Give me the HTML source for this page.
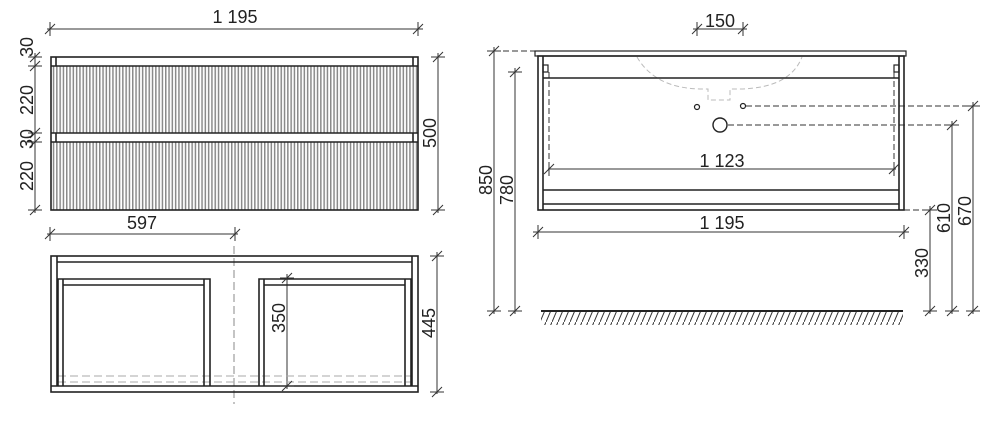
<!DOCTYPE html>
<html><head><meta charset="utf-8"><style>
html,body{margin:0;padding:0;background:#fff;width:1000px;height:424px;overflow:hidden}
text{font-family:"Liberation Sans",sans-serif;font-size:18px;fill:#222}
</style></head><body>
<svg width="1000" height="424" viewBox="0 0 1000 424" xmlns="http://www.w3.org/2000/svg">
<defs>
<pattern id="fl" width="3.3" height="10" patternUnits="userSpaceOnUse">
<rect width="3.3" height="10" fill="#fff"/><rect x="0" width="1.5" height="10" fill="#8a8a8a"/>
</pattern>
<pattern id="ht" width="6" height="14" patternUnits="userSpaceOnUse">
<line x1="0" y1="14" x2="6" y2="0" stroke="#333" stroke-width="1"/>
</pattern>
<g id="th" stroke="#333" stroke-width="1"><line x1="-5" y1="5" x2="5" y2="-5"/><line x1="0" y1="-7" x2="0" y2="7"/></g>
<g id="tv" stroke="#333" stroke-width="1"><line x1="-5" y1="5" x2="5" y2="-5"/><line x1="-7" y1="0" x2="7" y2="0"/></g>
</defs>
<g stroke="#333" stroke-width="1" fill="none">
<line x1="47" y1="29" x2="423" y2="29"/>
<line x1="35" y1="53" x2="35" y2="213"/>
<line x1="438" y1="53" x2="438" y2="213"/>
</g>
<rect x="51" y="66" width="367" height="67" fill="url(#fl)"/>
<rect x="51" y="142" width="367" height="68" fill="url(#fl)"/>
<g stroke="#222" stroke-width="1.6" fill="none">
<rect x="51" y="57" width="367" height="153"/>
<line x1="51" y1="66" x2="418" y2="66"/><line x1="51" y1="133" x2="418" y2="133"/><line x1="51" y1="142" x2="418" y2="142"/>
<line x1="56" y1="57" x2="56" y2="66"/><line x1="413" y1="57" x2="413" y2="66"/>
<line x1="56" y1="133" x2="56" y2="142"/><line x1="413" y1="133" x2="413" y2="142"/>
</g>
<use href="#th" x="50" y="29"/><use href="#th" x="418" y="29"/>
<use href="#tv" x="35" y="57"/><use href="#tv" x="35" y="66"/><use href="#tv" x="35" y="133"/><use href="#tv" x="35" y="142"/><use href="#tv" x="35" y="210"/>
<use href="#tv" x="438" y="57"/><use href="#tv" x="438" y="210"/>
<text x="235" y="23" text-anchor="middle">1 195</text>
<text transform="translate(33,47) rotate(-90)" text-anchor="middle">30</text>
<text transform="translate(33,100) rotate(-90)" text-anchor="middle">220</text>
<text transform="translate(33,139) rotate(-90)" text-anchor="middle">30</text>
<text transform="translate(33,176) rotate(-90)" text-anchor="middle">220</text>
<text transform="translate(436,133) rotate(-90)" text-anchor="middle">500</text>

<g stroke="#333" stroke-width="1" fill="none">
<line x1="47" y1="234" x2="238" y2="234"/>
<line x1="287" y1="274" x2="287" y2="389"/>
<line x1="437" y1="252" x2="437" y2="394"/>
</g>
<line x1="234" y1="246" x2="234" y2="404" stroke="#888" stroke-dasharray="8,4"/>
<g stroke="#aaa" stroke-dasharray="8,4"><line x1="58" y1="376" x2="411" y2="376"/><line x1="58" y1="382" x2="411" y2="382"/></g>
<g stroke="#222" stroke-width="1.6" fill="none">
<rect x="51" y="256" width="367" height="136"/>
<line x1="57" y1="256" x2="57" y2="386"/><line x1="412" y1="256" x2="412" y2="386"/>
<line x1="57" y1="262" x2="412" y2="262"/><line x1="51" y1="386" x2="418" y2="386"/>
<polyline points="58,386 58,279 210,279 210,386"/><line x1="63" y1="279" x2="63" y2="386"/><line x1="204" y1="279" x2="204" y2="386"/><line x1="63" y1="285" x2="204" y2="285"/>
<polyline points="259,386 259,279 411,279 411,386"/><line x1="264" y1="279" x2="264" y2="386"/><line x1="405" y1="279" x2="405" y2="386"/><line x1="264" y1="285" x2="405" y2="285"/>
</g>
<use href="#th" x="50" y="234"/><use href="#th" x="235" y="234"/>
<use href="#tv" x="287" y="278"/><use href="#tv" x="287" y="386"/>
<use href="#tv" x="437" y="256"/><use href="#tv" x="437" y="392"/>
<text x="142" y="229" text-anchor="middle">597</text>
<text transform="translate(285,318) rotate(-90)" text-anchor="middle">350</text>
<text transform="translate(435,323) rotate(-90)" text-anchor="middle">445</text>

<path d="M637,57 Q655,88 700,89 L708,89 L708,100 L730,100 L730,89 L740,89 Q790,88 802,57" stroke="#bbb" stroke-dasharray="5,3" fill="none"/>
<g stroke="#333" stroke-width="1" fill="none">
<line x1="693" y1="29" x2="747" y2="29"/>
<line x1="494" y1="47" x2="494" y2="314"/>
<line x1="515" y1="68" x2="515" y2="314"/>
<line x1="548" y1="169" x2="896" y2="169"/>
<line x1="533" y1="232" x2="909" y2="232"/>
<line x1="930" y1="206" x2="930" y2="314"/>
<line x1="952" y1="121" x2="952" y2="314"/>
<line x1="973" y1="102" x2="973" y2="314"/>
</g>
<g stroke="#333" stroke-dasharray="6,3" fill="none">
<line x1="494" y1="51" x2="535" y2="51"/>
<line x1="904" y1="210" x2="935" y2="210"/>
<line x1="746" y1="106" x2="980" y2="106"/>
<line x1="728" y1="125" x2="958" y2="125"/>
<line x1="549" y1="72" x2="549" y2="170"/>
<line x1="894" y1="72" x2="894" y2="170"/>
</g>
<g stroke="#222" stroke-width="1.6" fill="none">
<rect x="535" y="51" width="371" height="5" stroke-width="1.2"/>
<rect x="538" y="56" width="366" height="154"/>
<line x1="543" y1="56" x2="543" y2="210"/><line x1="899" y1="56" x2="899" y2="210"/>
<line x1="543" y1="78" x2="899" y2="78"/>
<line x1="543" y1="190" x2="899" y2="190"/><line x1="543" y1="204" x2="899" y2="204"/>
<rect x="543" y="65" width="5" height="7" stroke-width="1.2"/><rect x="894" y="65" width="5" height="7" stroke-width="1.2"/>
<circle cx="697" cy="107" r="2.5" stroke-width="1.2"/><circle cx="743" cy="106" r="2.5" stroke-width="1.2"/>
<circle cx="720" cy="125" r="7" stroke-width="1.4"/>
<line x1="541" y1="311" x2="903" y2="311" stroke-width="2"/>
</g>
<rect x="541" y="312" width="362" height="13" fill="url(#ht)"/>
<use href="#th" x="697" y="29"/><use href="#th" x="743" y="29"/>
<use href="#tv" x="494" y="51"/><use href="#tv" x="494" y="311"/>
<use href="#tv" x="515" y="72"/><use href="#tv" x="515" y="311"/>
<use href="#th" x="549" y="169"/><use href="#th" x="894" y="169"/>
<use href="#th" x="538" y="232"/><use href="#th" x="904" y="232"/>
<use href="#tv" x="930" y="210"/><use href="#tv" x="930" y="311"/>
<use href="#tv" x="952" y="125"/><use href="#tv" x="952" y="311"/>
<use href="#tv" x="973" y="106"/><use href="#tv" x="973" y="311"/>
<text x="720" y="27" text-anchor="middle">150</text>
<text x="722" y="167" text-anchor="middle">1 123</text>
<text x="722" y="229" text-anchor="middle">1 195</text>
<text transform="translate(492,180) rotate(-90)" text-anchor="middle">850</text>
<text transform="translate(513,190) rotate(-90)" text-anchor="middle">780</text>
<text transform="translate(928,263) rotate(-90)" text-anchor="middle">330</text>
<text transform="translate(950,218) rotate(-90)" text-anchor="middle">610</text>
<text transform="translate(971,211) rotate(-90)" text-anchor="middle">670</text>
</svg>
</body></html>
